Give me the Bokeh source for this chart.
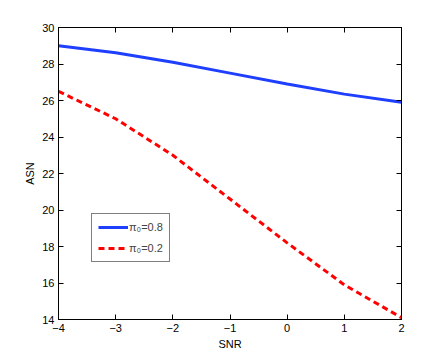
from bokeh.plotting import figure
from bokeh.models import LinearAxis, Range1d, FixedTicker, Legend, LegendItem
from bokeh.embed import file_html
from bokeh.resources import INLINE

snr = [-4, -3, -2, -1, 0, 1, 2]
asn_08 = [29.0, 28.62, 28.1, 27.5, 26.9, 26.35, 25.9]
asn_02 = [26.5, 25.0, 23.0, 20.6, 18.2, 15.9, 14.1]
xticks = [-4, -3, -2, -1, 0, 1, 2]
yticks = [14, 16, 18, 20, 22, 24, 26, 28, 30]

FONT = "Liberation Sans"

p = figure(frame_width=343, frame_height=292, output_backend="svg", toolbar_location=None,
           x_range=Range1d(-4, 2), y_range=Range1d(14, 30),
           min_border_left=58, min_border_right=30, min_border_top=27, min_border_bottom=34,
           background_fill_color="white", border_fill_color="white")
p.grid.visible = False
p.outline_line_color = "black"
p.outline_line_width = 1

l1 = p.line(snr, asn_08, line_color="#1f3fff", line_width=3)
l2 = p.line(snr, asn_02, line_color="#ff0000", line_width=3, line_dash="6 4")

p.xaxis.ticker = FixedTicker(ticks=xticks)
p.yaxis.ticker = FixedTicker(ticks=yticks)
p.xaxis.axis_label = "SNR"
p.yaxis.axis_label = "ASN"

for ax in [p.xaxis[0], p.yaxis[0]]:
    ax.major_tick_in = 5
    ax.major_tick_out = 0
    ax.minor_tick_line_color = None
    ax.axis_line_color = "black"
    ax.major_label_text_font = FONT
    ax.major_label_text_font_size = "11px"
    ax.major_label_text_color = "black"
    ax.axis_label_text_font = FONT
    ax.axis_label_text_font_size = "11px"
    ax.axis_label_text_font_style = "normal"
    ax.axis_label_text_color = "black"
p.xaxis.major_label_overrides = {t: ("\u2212" + str(-t) if t < 0 else str(t)) for t in xticks}
p.xaxis[0].major_label_standoff = 4
p.xaxis[0].axis_label_standoff = 3
p.yaxis[0].major_label_standoff = 4
p.yaxis[0].axis_label_standoff = 3

ax_top = LinearAxis(ticker=FixedTicker(ticks=xticks),
                    major_label_overrides={t: "" for t in xticks},
                    major_tick_in=5, major_tick_out=0, minor_tick_line_color=None)
ax_right = LinearAxis(ticker=FixedTicker(ticks=yticks),
                      major_label_overrides={t: "" for t in yticks},
                      major_tick_in=5, major_tick_out=0, minor_tick_line_color=None)
p.add_layout(ax_top, "above")
p.add_layout(ax_right, "right")

legend = Legend(items=[LegendItem(label="\u03c0\u2080=0.8", renderers=[l1]),
                       LegendItem(label="\u03c0\u2080=0.2", renderers=[l2])],
                location=(33, 57), label_text_font=FONT, label_text_font_size="11px",
                border_line_color="black", border_line_width=1,
                glyph_width=30, glyph_height=14, label_height=14, spacing=7, padding=6, margin=0,
                label_standoff=1, background_fill_alpha=1)
p.add_layout(legend)

open("out.html", "w").write(file_html(p, INLINE))
